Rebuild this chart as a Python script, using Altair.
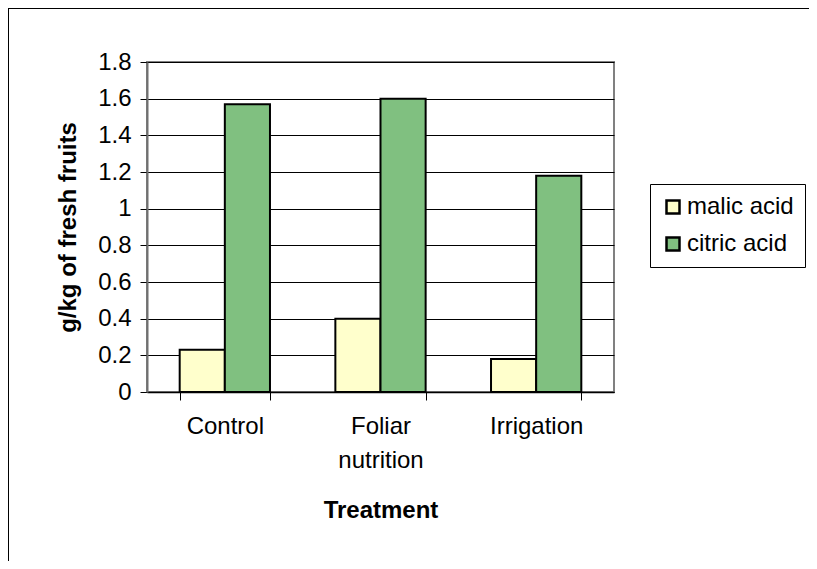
import altair as alt
import pandas as pd

treatments = ["Control", "Foliar nutrition", "Irrigation"]
acids = ["malic acid", "citric acid"]
malic = [0.23, 0.40, 0.18]
citric = [1.57, 1.60, 1.18]
y_ticks = [0, 0.2, 0.4, 0.6, 0.8, 1.0, 1.2, 1.4, 1.6, 1.8]
colors = ["#FFFFCC", "#80C080"]

rows = []
for i, t in enumerate(treatments):
    rows.append({"treatment": t, "acid": acids[0], "value": malic[i]})
    rows.append({"treatment": t, "acid": acids[1], "value": citric[i]})
df = pd.DataFrame(rows)

FONT = "Liberation Sans"

bars = alt.Chart(df).mark_bar(stroke="black", strokeWidth=2).encode(
    x=alt.X("treatment:N", sort=treatments,
            scale=alt.Scale(paddingInner=0.42, paddingOuter=0.21),
            axis=alt.Axis(title="Treatment", labelAngle=0,
                          labelExpr="split(datum.label, ' ')",
                          labelLineHeight=34, labelFontSize=24,
                          labelPadding=14, tickBand="extent", tickSize=8,
                          tickColor="black", domainColor="black", domainWidth=1.5,
                          titleFontSize=24, titleFontWeight="bold",
                          titlePadding=26, labelColor="black", titleColor="black",
                          grid=False)),
    xOffset=alt.XOffset("acid:N", sort=acids),
    y=alt.Y("value:Q", scale=alt.Scale(domain=[0, 1.8], nice=False),
            axis=alt.Axis(title="g/kg of fresh fruits", values=y_ticks, format="~g",
                          labelFontSize=24, labelPadding=9, tickSize=7,
                          tickColor="black", domainColor="#707070", domainWidth=2,
                          gridColor="black", gridWidth=1,
                          titleFontSize=24, titleFontWeight="bold",
                          titleX=-79, titleBaseline="middle",
                          labelColor="black", titleColor="black")),
    color=alt.Color("acid:N", sort=acids,
                    scale=alt.Scale(domain=acids, range=colors),
                    legend=alt.Legend(title=None, orient="none", legendX=503, legendY=122,
                                      symbolType="square", symbolSize=169,
                                      symbolStrokeColor="black", symbolStrokeWidth=2.5,
                                      labelFontSize=24, labelColor="black",
                                      rowPadding=13, padding=11,
                                      strokeColor="black", fillColor="white",
                                      labelOffset=2)),
)

top_border = alt.Chart(df).mark_rule(color="black", strokeWidth=1).encode(
    x=alt.value(-139), x2=alt.value(700), y=alt.value(-53.5))
left_border = alt.Chart(df).mark_rule(color="black", strokeWidth=1).encode(
    x=alt.value(-138.5), y=alt.value(-54), y2=alt.value(600))

chart = alt.layer(bars, top_border, left_border).properties(
    width=467, height=330,
    autosize=alt.AutoSizeParams(type="none"),
    padding={"left": 139, "top": 54, "right": 195, "bottom": 169},
).configure(font=FONT).configure_view(stroke="#808080", strokeWidth=2)

chart.save("out.html", embed_options={"renderer": "svg", "actions": False})
